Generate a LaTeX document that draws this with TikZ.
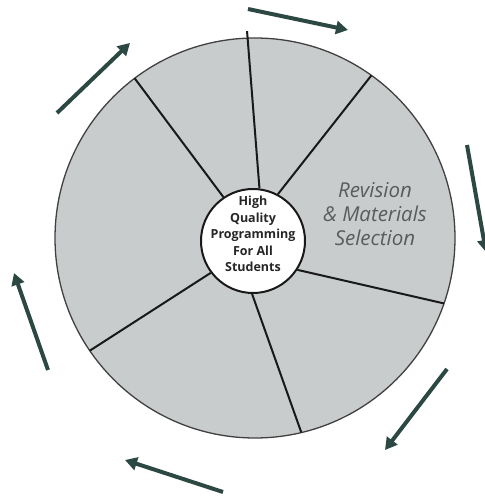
\documentclass[tikz,border=0pt]{standalone}
\usepackage{fontspec}
\setmainfont{Open Sans}
\usetikzlibrary{arrows.meta}
\definecolor{wheelgray}{RGB}{201,204,204}
\definecolor{flowgreen}{RGB}{44,72,66}
\definecolor{labelgray}{RGB}{88,92,92}
\begin{document}
\begin{tikzpicture}[x=1pt, y=1pt,
  flow/.style={line width=4pt, flowgreen, -{Triangle[length=12pt, width=13pt]}},
  spoke/.style={line width=2pt, black!90}]
\useasboundingbox (0, 0) rectangle (485, 496);
% the wheel
\coordinate (c) at (255, 258);
\filldraw[fill=wheelgray, draw=black!75, line width=1.3pt] (c) circle (200pt);
\node[circle, draw=black!90, fill=white, line width=2pt,
  minimum size=104pt, inner sep=0pt] (hub) at (253, 255) {};
\foreach \a/\b/\r in {124/127/200, 83/92.2/207, 62/54.4/200,
  327/-19.1/200, 269/-76.6/200, 217/214.3/200}
  \draw[spoke] (hub.\a) -- ([shift={(\b:\r pt)}]c);
\node[align=center, font=\fontsize{12.5}{16.5}\selectfont\bfseries,
  text=black!85] (hubtext) at (253, 262)
  {High\\Quality\\Programming\\For All\\Students};
\node[align=center, font=\fontsize{20.5}{24}\selectfont\itshape,
  text=labelgray] (revision) at (375, 282)
  {Revision\\\& Materials\\Selection};
% arrows round the wheel
\draw[flow] (248, 487) -- (348, 466);
\draw[flow] (467, 351) -- (486, 244);
\draw[flow] (447, 127) -- (385, 46);
\draw[flow] (223, 4) -- (125, 36);
\draw[flow] (48, 126) -- (14, 223);
\draw[flow] (57, 383) -- (130, 453);
\end{tikzpicture}
\end{document}
